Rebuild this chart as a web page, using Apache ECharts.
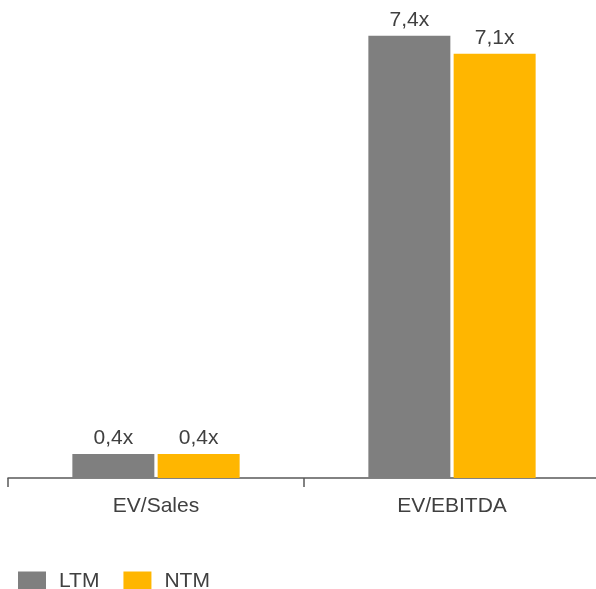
<!DOCTYPE html>
<html>
<head>
<meta charset="utf-8">
<script src="https://cdn.jsdelivr.net/npm/echarts@6/dist/echarts.min.js"></script>
<style>
  html, body { margin: 0; padding: 0; background: #fff; }
  #chart { width: 596px; height: 589px; }
</style>
</head>
<body>
<div id="chart"></div>
<script>
// 数据
const categories = ['EV/Sales', 'EV/EBITDA'];
const ltmValues = [0.4, 7.4];
const ntmValues = [0.4, 7.1];

const chart = echarts.init(document.getElementById('chart'));

const labelStyle = {
  show: true,
  position: 'top',
  distance: 5,
  color: '#404040',
  fontSize: 21,
  fontFamily: 'Liberation Sans, Arial, sans-serif',
  formatter: p => p.value.toFixed(1).replace('.', ',') + 'x'
};

const option = {
  animation: false,
  textStyle: { fontFamily: 'Liberation Sans, Arial, sans-serif' },
  grid: { left: 8, top: 0, right: -4, height: 478, containLabel: false, outerBoundsMode: 'none' },
  legend: {
    left: 13,
    top: 566,
    itemWidth: 28,
    itemHeight: 20,
    itemGap: 24,
    icon: 'rect',
    textStyle: { color: '#404040', fontSize: 21, padding: [0, 0, 0, 8] },
    data: ['LTM', 'NTM']
  },
  xAxis: {
    type: 'category',
    data: categories,
    axisLine: { lineStyle: { color: '#595959', width: 1.5 } },
    axisTick: { show: true, length: 9, lineStyle: { color: '#595959', width: 1.5 } },
    axisLabel: { color: '#404040', fontSize: 21, margin: 18 }
  },
  yAxis: {
    type: 'value',
    min: 0,
    max: 8,
    show: false,
    splitLine: { show: false }
  },
  series: [
    {
      name: 'LTM',
      type: 'bar',
      data: ltmValues,
      barWidth: 82,
      barGap: '4%',
      itemStyle: { color: '#7f7f7f' },
      label: labelStyle
    },
    {
      name: 'NTM',
      type: 'bar',
      data: ntmValues,
      barWidth: 82,
      itemStyle: { color: '#ffb600' },
      label: labelStyle
    }
  ]
};

chart.setOption(option);
</script>
</body>
</html>
